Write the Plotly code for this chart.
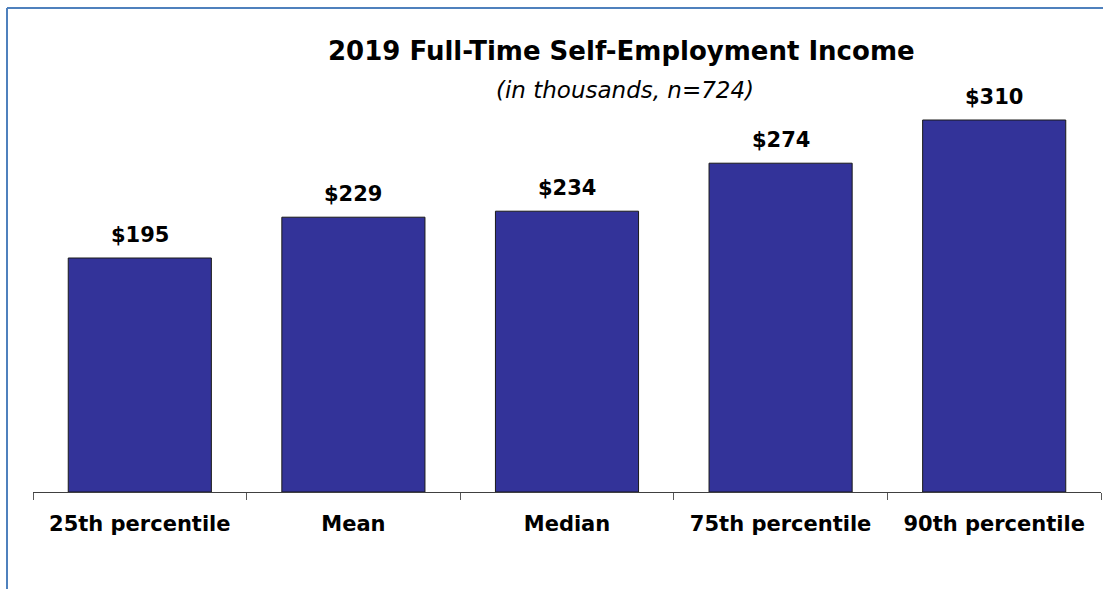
import plotly.graph_objects as go

# Self-employment income summary (thousands of dollars)
categories = ["25th percentile", "Mean", "Median", "75th percentile", "90th percentile"]
values = [195, 229, 234, 274, 310]
value_labels = ["$" + str(v) for v in values]

title_text = "2019 Full-Time Self-Employment Income"
subtitle_text = "(in thousands, n=724)"

FONT = "DejaVu Sans"
BAR_COLOR = "#333399"

W, H = 1103, 589
M_L, M_R, M_T, M_B = 33, 2, 72, 97
PLOT_W = W - M_L - M_R
PLOT_H = H - M_T - M_B


def px_x(px):
    return (px - M_L) / PLOT_W


def px_y(py):
    return (H - M_B - py) / PLOT_H


fig = go.Figure(
    go.Bar(
        x=categories,
        y=values,
        width=0.67,
        marker=dict(color=BAR_COLOR, line=dict(color="#1a1a1a", width=1)),
        hoverinfo="skip",
    )
)

annotations = []
for cat, val, lab in zip(categories, values, value_labels):
    annotations.append(dict(
        x=cat, y=val, xref="x", yref="y", text="<b>" + lab + "</b>",
        showarrow=False, yanchor="bottom", yshift=9,
        font=dict(family=FONT, size=21, color="#000000"),
    ))

annotations.append(dict(
    x=px_x(621), y=px_y(51), xref="paper", yref="paper",
    text="<b>" + title_text + "</b>", showarrow=False,
    xanchor="center", yanchor="middle",
    font=dict(family=FONT, size=26, color="#000000"),
))
annotations.append(dict(
    x=px_x(625), y=px_y(90), xref="paper", yref="paper",
    text="<i>" + subtitle_text + "</i>", showarrow=False,
    xanchor="center", yanchor="middle",
    font=dict(family=FONT, size=23, color="#000000"),
))

# Frame lines along the top and left of the chart
frame = dict(color="#4F81BD", width=2)
shapes = [
    dict(type="line", xref="paper", yref="paper", x0=px_x(7), x1=px_x(1110),
         y0=px_y(8), y1=px_y(8), line=frame),
    dict(type="line", xref="paper", yref="paper", x0=px_x(7), x1=px_x(7),
         y0=px_y(8), y1=px_y(600), line=frame),
]

fig.update_layout(
    width=W, height=H,
    margin=dict(l=M_L, r=M_R, t=M_T, b=M_B),
    paper_bgcolor="white", plot_bgcolor="white",
    showlegend=False,
    annotations=annotations,
    shapes=shapes,
    bargap=0.33,
    font=dict(family=FONT, color="#000000"),
)

fig.update_xaxes(
    showline=True, linecolor="#404040", linewidth=1,
    ticks="outside", ticklen=7, tickcolor="#595959", tickwidth=1,
    tickson="boundaries",
    tickfont=dict(family=FONT, size=21, color="#000000"),
    ticklabelstandoff=13,
    tickvals=categories,
    ticktext=["<b>" + c + "</b>" for c in categories],
)
fig.update_yaxes(
    range=[0, PLOT_H / 1.2], visible=False, showgrid=False, zeroline=False,
)

fig.write_html("out.html")
